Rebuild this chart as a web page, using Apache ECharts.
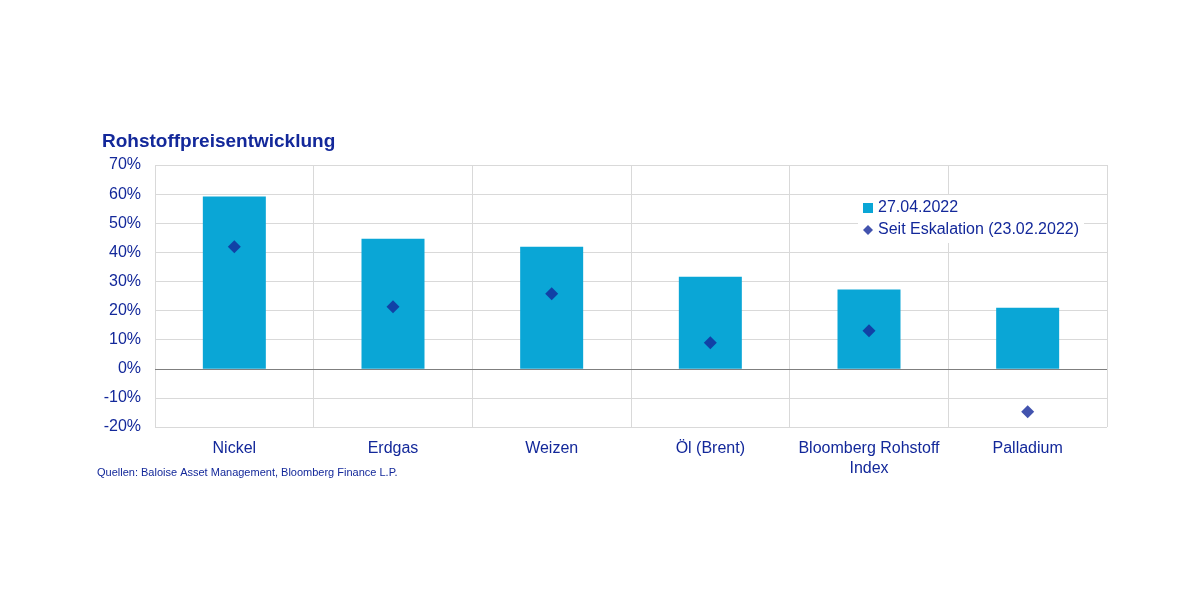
<!DOCTYPE html>
<html>
<head>
<meta charset="utf-8" />
<script src="https://cdn.jsdelivr.net/npm/echarts@6/dist/echarts.min.js"></script>
<style>
  html, body { margin: 0; padding: 0; background: #fff; }
  #chart { width: 1200px; height: 600px; }
</style>
</head>
<body>
<div id="chart"></div>
<script type="text/javascript">
  var categories = ['Nickel', 'Erdgas', 'Weizen', 'Öl (Brent)', 'Bloomberg Rohstoff\nIndex', 'Palladium'];
  var current = [59.2, 44.7, 41.9, 31.6, 27.2, 21.0];      // 27.04.2022
  var sinceEscalation = [41.9, 21.3, 25.8, 8.9, 13.1, -14.8]; // seit 23.02.2022

  var navy = '#13289a';
  var chart = echarts.init(document.getElementById('chart'));
  chart.setOption({
    animation: false,
    textStyle: { fontFamily: 'Liberation Sans, Arial, sans-serif' },
    title: {
      text: 'Rohstoffpreisentwicklung', left: 97, top: 127,
      textStyle: { color: navy, fontSize: 19, fontWeight: 'bold' }
    },
    graphic: [{
      type: 'text', left: 97, top: 467,
      style: { text: 'Quellen: Baloise Asset Management, Bloomberg Finance L.P.', fill: navy, fontSize: 11, fontFamily: 'Liberation Sans, Arial' }
    }],
    legend: {
      orient: 'vertical', left: 858, top: 195, itemGap: 6, itemWidth: 10, itemHeight: 10,
      backgroundColor: '#fff',
      textStyle: { color: navy, fontSize: 16 },
      data: [
        { name: '27.04.2022', icon: 'rect' },
        { name: 'Seit Eskalation (23.02.2022)', icon: 'diamond' }
      ]
    },
    grid: { left: 155, right: 93, top: 165, bottom: 173 },
    xAxis: {
      type: 'category', data: categories,
      axisLine: { show: false },
      axisTick: { show: false },
      splitLine: { show: true, lineStyle: { color: '#d9d9d9' } },
      axisLabel: { color: navy, fontSize: 16, margin: 12, interval: 0, lineHeight: 20 }
    },
    yAxis: {
      type: 'value', min: -20, max: 70, interval: 10,
      axisLabel: { formatter: '{value}%', color: navy, fontSize: 16, margin: 14 },
      axisLine: { show: false }, axisTick: { show: false },
      splitLine: { lineStyle: { color: '#d9d9d9' } }
    },
    series: [
      {
        name: '27.04.2022', type: 'bar', data: current, barWidth: 63,
        itemStyle: { color: '#0aa6d6' },
        markLine: {
          silent: true, symbol: 'none', label: { show: false },
          lineStyle: { color: '#7f7f7f', type: 'solid', width: 1 },
          data: [{ yAxis: 0 }]
        }
      },
      {
        name: 'Seit Eskalation (23.02.2022)', type: 'scatter', data: sinceEscalation,
        symbol: 'diamond', symbolSize: 13, itemStyle: { color: '#13289a' }, z: 5
      }
    ]
  });
</script>
</body>
</html>
